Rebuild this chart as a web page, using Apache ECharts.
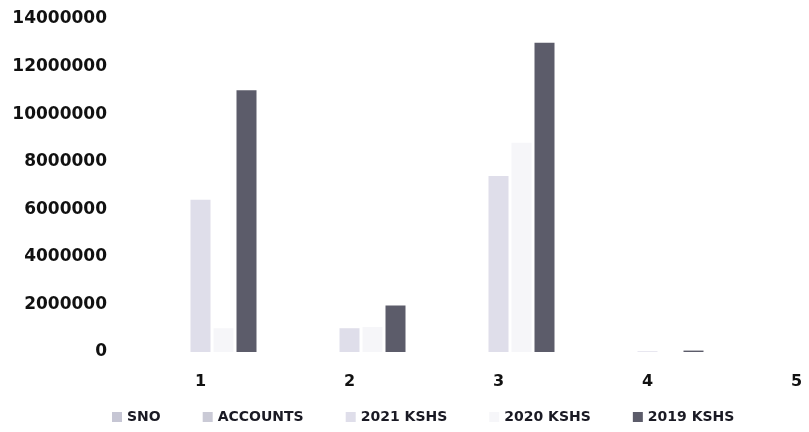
<!DOCTYPE html>
<html>
<head>
<meta charset="utf-8">
<script src="https://cdn.jsdelivr.net/npm/echarts@6/dist/echarts.min.js"></script>
<style>
html, body { margin: 0; padding: 0; background: #fff; overflow: hidden; }
#chart { width: 871px; height: 432px; }
</style>
</head>
<body>
<div id="chart"></div>
<script>
var categories = ['1', '2', '3', '4', '5'];
var yTicks = [0, 2000000, 4000000, 6000000, 8000000, 10000000, 12000000, 14000000];
var sno = [1, 2, 3, 4, 5];
var accounts = [0, 0, 0, 0, 0];
var kshs2021 = [6400000, 1000000, 7400000, 30000, 0];
var kshs2020 = [1000000, 1050000, 8800000, 0, 0];
var kshs2019 = [11000000, 1950000, 13000000, 60000, 0];

// the original picture is cut off on the right, so the canvas is wider than the window
var chart = echarts.init(document.getElementById('chart'));

var font = 'DejaVu Sans';

function bar(name, data, color) {
    return {
        name: name,
        type: 'bar',
        data: data,
        barWidth: 20,
        barGap: '15%',
        itemStyle: { color: color }
    };
}

option = {
    animation: false,
    grid: {
        left: 126,
        right: 0,
        top: 19,
        bottom: 80
    },
    legend: {
        left: 107,
        bottom: 3,
        itemWidth: 10,
        itemHeight: 10,
        itemGap: 42,
        icon: 'rect',
        textStyle: {
            fontFamily: font,
            fontWeight: 'bold',
            fontSize: 14,
            color: '#1a1a24'
        },
        data: ['SNO', 'ACCOUNTS', '2021 KSHS', '2020 KSHS', '2019 KSHS']
    },
    xAxis: {
        type: 'category',
        data: categories,
        axisLine: { show: false },
        axisTick: { show: false },
        axisLabel: {
            margin: 22,
            fontFamily: font,
            fontWeight: 'bold',
            fontSize: 16,
            color: '#111'
        }
    },
    yAxis: {
        type: 'value',
        min: yTicks[0],
        max: yTicks[yTicks.length - 1],
        interval: yTicks[1] - yTicks[0],
        splitLine: { show: false },
        axisLine: { show: false },
        axisTick: { show: false },
        axisLabel: {
            margin: 19,
            fontFamily: font,
            fontWeight: 'bold',
            fontSize: 17,
            color: '#111',
            formatter: function (v) { return String(v); }
        }
    },
    series: [
        bar('SNO', sno, '#c6c6d4'),
        bar('ACCOUNTS', accounts, '#cacad6'),
        bar('2021 KSHS', kshs2021, '#dfdeea'),
        bar('2020 KSHS', kshs2020, '#f6f6f9'),
        bar('2019 KSHS', kshs2019, '#5c5c6a')
    ]
};
chart.setOption(option);
</script>
</body>
</html>
